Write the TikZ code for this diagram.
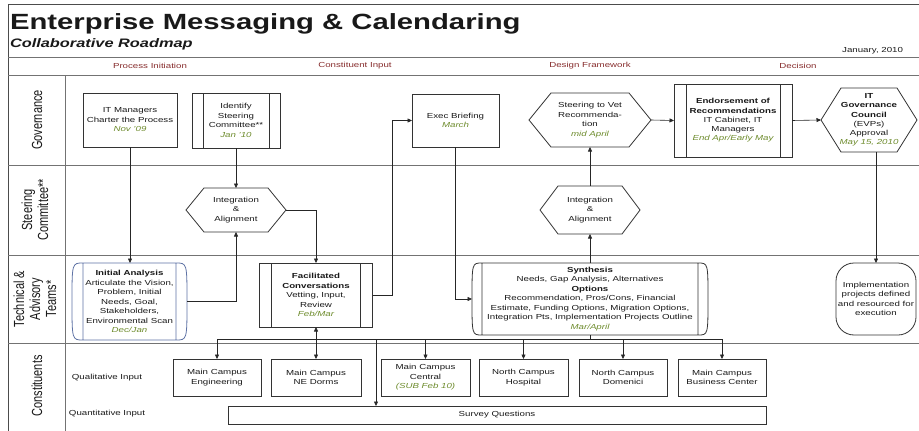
\documentclass[tikz,border=0pt]{standalone}
\usepackage{fontspec}
\setmainfont{Liberation Sans}[FakeStretch=1.33]
\newfontfamily\lanefont{Liberation Sans}
\usepackage{graphicx}
\usetikzlibrary{arrows.meta,calc}
\definecolor{dategreen}{RGB}{110,140,45}
\definecolor{phasered}{RGB}{135,45,45}
\definecolor{iaBlue}{RGB}{95,115,165}
\newcommand\dte[1]{{\color{dategreen}\itshape #1}}
\newcommand\hexshape[2]{\draw[draw=black!80,line width=0.8pt] (#1.west) -- ([xshift=#2]#1.north west) -- ([xshift=-#2]#1.north east) -- (#1.east) -- ([xshift=-#2]#1.south east) -- ([xshift=#2]#1.south west) -- cycle;}
\newcommand\brackshape[3]{\draw[line width=0.8pt, draw=#3]
  ([xshift=#2]#1.north west) -- ([xshift=-#2]#1.north east) -- ([xshift=-#2]#1.south east) -- ([xshift=#2]#1.south west) -- cycle
  ([xshift=#2]#1.north west) .. controls (#1.north west) .. (#1.west) .. controls (#1.south west) .. ([xshift=#2]#1.south west)
  ([xshift=-#2]#1.north east) .. controls (#1.north east) .. (#1.east) .. controls (#1.south east) .. ([xshift=-#2]#1.south east);}
\begin{document}
\begin{tikzpicture}[x=1pt,y=-1pt,
  every node/.style={inner sep=0pt, outer sep=0pt, align=center, font=\fontsize{7.3}{9.5}\selectfont, text=black!90},
  sz/.style 2 args={minimum width=#1, minimum height=#2},
  box/.style={draw=black!80, line width=0.8pt},
  pp/.style={box, path picture={\draw[black!80, line width=0.8pt] ([xshift=#1]path picture bounding box.north west) -- ([xshift=#1]path picture bounding box.south west) ([xshift=-#1]path picture bounding box.north east) -- ([xshift=-#1]path picture bounding box.south east);}},
  pp/.default=11pt,
  conn/.style={draw=black!85, line width=0.6pt},
  mytip/.tip={Triangle[length=4.5pt,width=4pt]},
  arr/.style={conn, -mytip},
  darr/.style={conn, mytip-mytip},
  sep/.style={draw=black!55, line width=1pt},
  lane/.style={rotate=90, font=\lanefont\fontsize{11}{12}\selectfont},
  phase/.style={text=phasered},
]
\useasboundingbox (0,0) rectangle (919,431);
\fill[white] (0,0) rectangle (919,431);
% frame and lanes
\draw[sep, draw=black!70] (8,431) -- (8,4) -- (919,4);
\foreach \yy in {57,75,165,255,343} \draw[sep] (8,\yy) -- (919,\yy);
\draw[sep] (65,75) -- (65,431);
% titles
\node[anchor=base west, font=\fontsize{22}{24}\selectfont\bfseries] (title) at (10,30) {Enterprise Messaging \& Calendaring};
\node[anchor=base west, font=\fontsize{12.3}{14}\selectfont\bfseries\itshape] (sub) at (10,47) {Collaborative Roadmap};
\node[anchor=base east] (date) at (903,52) {January, 2010};
% phases
\node[phase] (ph1) at (150,66) {Process Initiation};
\node[phase] (ph2) at (355,66) {Constituent Input};
\node[phase] (ph3) at (590,66) {Design Framework};
\node[phase] (ph4) at (798,66) {Decision};
% lane labels
\node[lane] (lgov) at (37,120) {\scalebox{1}[1.33]{Governance}};
\node[lane] (lsc) at (37,210) {\scalebox{1}[1.33]{\begin{tabular}{@{}c@{}}Steering\\Committee**\end{tabular}}};
\node[lane] (ltat) at (37,299) {\scalebox{1}[1.33]{\begin{tabular}{@{}c@{}}Technical \&\\Advisory\\Teams*\end{tabular}}};
\node[lane] (lcon) at (37,386) {\scalebox{1}[1.33]{Constituents}};
\node (qual) at (107,378) {Qualitative Input};
\node (quant) at (107,414) {Quantitative Input};
% governance
\node[box, sz={94}{54}] (itm) at (130,120) {IT Managers\\Charter the Process\\\dte{Nov '09}};
\node[pp, sz={88}{55}] (isc) at (236,120.5) {Identify\\Steering\\Committee**\\\dte{Jan '10}};
\node[box, sz={87}{53}] (exb) at (455.5,120.5) {Exec Briefing\\\dte{March}};
\node[sz={122}{54}] (svr) at (590,120) {Steering to Vet\\Recommenda-\\tion\\\dte{mid April}};
\hexshape{svr}{22pt}
\node[pp=12pt, sz={118}{73}, font=\fontsize{7.3}{9.2}\selectfont] (end) at (733,120.5) {\textbf{Endorsement of}\\\textbf{Recommendations}\\IT Cabinet, IT\\Managers\\\dte{End Apr/Early May}};
\node[sz={96}{64}, font=\fontsize{7.3}{9.2}\selectfont] (itg) at (869,120) {\textbf{IT}\\\textbf{Governance}\\\textbf{Council}\\(EVPs)\\Approval\\\dte{May 15, 2010}};
\hexshape{itg}{20pt}
% steering
\node[sz={100}{44}] (ia1) at (236,210) {Integration\\\&\\Alignment};
\hexshape{ia1}{18pt}
\node[sz={100}{48}] (ia2) at (590,210) {Integration\\\&\\Alignment};
\hexshape{ia2}{18pt}
% technical
\node[sz={115}{77}] (ina) at (129.5,301.5) {\textbf{Initial Analysis}\\Articulate the Vision,\\Problem, Initial\\Needs, Goal,\\Stakeholders,\\Environmental Scan\\\dte{Dec/Jan}};
\brackshape{ina}{11pt}{iaBlue}
\node[pp=12pt, sz={113}{64}] (fac) at (316,295) {\textbf{Facilitated}\\\textbf{Conversations}\\Vetting, Input,\\Review\\\dte{Feb/Mar}};
\node[sz={236}{72}] (syn) at (590,299) {\textbf{Synthesis}\\Needs, Gap Analysis, Alternatives\\\textbf{Options}\\Recommendation, Pros/Cons, Financial\\Estimate, Funding Options, Migration Options,\\Integration Pts, Implementation Projects Outline\\\dte{Mar/April}};
\brackshape{syn}{10pt}{black!80}
\node[box, rounded corners=18pt, sz={80}{72}] (imp) at (876,299) {Implementation\\projects defined\\and resourced for\\execution};
% constituents
\node[box, sz={88}{37}] (mce) at (217,377.5) {Main Campus\\Engineering};
\node[box, sz={90}{37}] (mcn) at (316,377.5) {Main Campus\\NE Dorms};
\node[box, sz={89}{37}] (mcc) at (425.5,377.5) {Main Campus\\Central\\\dte{(SUB Feb 10)}};
\node[box, sz={89}{37}] (nch) at (523.5,377.5) {North Campus\\Hospital};
\node[box, sz={88}{37}] (ncd) at (623,377.5) {North Campus\\Domenici};
\node[box, sz={88}{37}] (mcb) at (722,377.5) {Main Campus\\Business Center};
\node[box, sz={538}{18}] (svy) at (497,415) {Survey Questions};
% connectors
\draw[arr] (itm.south) -- (itm.south |- ina.north);
\draw[arr] (isc.south) -- (ia1.north);
\draw[arr] (ina.east) -| (ia1.south);
\draw[arr] (ia1.east) -| (fac.north);
\draw[arr] (fac.east) -- ++(20,0) |- (exb.west);
\draw[arr] (exb.south) |- (syn.west);
\draw[arr] (syn.north) -- (ia2.south);
\draw[arr] (ia2.north) -- (svr.south);
\draw[arr] (svr.east) -- (end.west);
\draw[arr] (end.east) -- (itg.west);
\draw[arr] (itg.south -| imp.north) -- (imp.north);
\coordinate (bus) at (0,339);
\coordinate (sj) at (376,339);
\draw[conn] (mce.north |- bus) -- (mcb.north |- bus);
\draw[conn] (syn.south) -- (syn.south |- bus);
\foreach \n in {mce,mcc,nch,ncd,mcb} \draw[arr] (\n.north |- bus) -- (\n.north);
\draw[darr] (fac.south) -- (fac.south |- mcn.north);
\draw[arr] (sj) -- (sj |- svy.north);
\end{tikzpicture}
\end{document}
